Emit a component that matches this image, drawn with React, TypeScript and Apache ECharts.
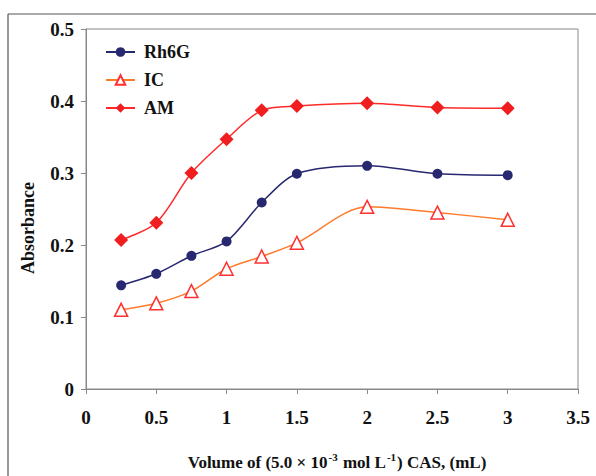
import React, { useEffect, useRef } from "react";
import * as echarts from "echarts";

const volumes = [0.25, 0.5, 0.75, 1, 1.25, 1.5, 2, 2.5, 3];
const rh6g = [0.144, 0.16, 0.185, 0.205, 0.259, 0.299, 0.31, 0.299, 0.297];
const ic = [0.11, 0.119, 0.136, 0.167, 0.184, 0.203, 0.253, 0.245, 0.235];
const am = [0.207, 0.231, 0.3, 0.347, 0.387, 0.393, 0.397, 0.391, 0.39];

const FONT = "'Liberation Serif', 'Times New Roman', serif";

export default function App() {
  const ref = useRef<HTMLDivElement>(null);
  useEffect(() => {
    if (!ref.current) return;
    const chart = echarts.init(ref.current, undefined, { renderer: "svg" });
    const pts = (ys: number[]) => volumes.map((x, i) => [x, ys[i]]);
    chart.setOption({
      animation: false,
      backgroundColor: "#fff",
      graphic: [
        { type: "line", shape: { x1: 8, y1: 14, x2: 596, y2: 14 }, style: { stroke: "#555", lineWidth: 1.2 } },
        { type: "line", shape: { x1: 8, y1: 14, x2: 8, y2: 476 }, style: { stroke: "#555", lineWidth: 1.2 } },
      ],
      grid: {
        left: 86,
        top: 29,
        right: 18,
        bottom: 87,
        show: true,
        borderColor: "#888",
        borderWidth: 1,
      },
      legend: {
        orient: "vertical",
        left: 105,
        top: 43,
        padding: 0,
        itemWidth: 29,
        itemHeight: 12,
        itemGap: 10,
        textStyle: { fontFamily: FONT, fontWeight: "bold", fontSize: 18, color: "#111", padding: [0, 0, 0, 4] },
        data: ["Rh6G", "IC", "AM"],
      },
      xAxis: {
        type: "value",
        min: 0,
        max: 3.5,
        interval: 0.5,
        splitLine: { show: false },
        axisLine: { lineStyle: { color: "#888" } },
        axisTick: { show: true, inside: false, length: 5, lineStyle: { color: "#888" } },
        axisLabel: { fontFamily: FONT, fontWeight: "bold", fontSize: 19, color: "#111", margin: 19 },
        name: "{n|Volume of (5.0 × 10}{s|-3}{n| mol L}{s|-1}{n|) CAS, (mL)}",
        nameLocation: "middle",
        nameGap: 62,
        nameTextStyle: {
          padding: [0, 0, 0, 10],
          rich: {
            n: { fontFamily: FONT, fontWeight: "bold", fontSize: 17, color: "#111", lineHeight: 22 },
            s: { fontFamily: FONT, fontWeight: "bold", fontSize: 11, color: "#111", verticalAlign: "top", lineHeight: 22, padding: [0, 1, 9, 1] },
          },
        },
      },
      yAxis: {
        type: "value",
        min: 0,
        max: 0.5,
        interval: 0.1,
        splitLine: { show: false },
        axisLine: { show: true, lineStyle: { color: "#888" } },
        axisTick: { show: true, inside: false, length: 5, lineStyle: { color: "#888" } },
        axisLabel: { fontFamily: FONT, fontWeight: "bold", fontSize: 19, color: "#111", margin: 12 },
        name: "Absorbance",
        nameLocation: "middle",
        nameGap: 49,
        nameTextStyle: { fontFamily: FONT, fontWeight: "bold", fontSize: 18, color: "#111", padding: [0, 38, 0, 0] },
      },
      series: [
        {
          name: "Rh6G",
          type: "line",
          data: pts(rh6g),
          smooth: 0.3,
          symbol: "circle",
          symbolSize: 10,
          lineStyle: { color: "#27286f", width: 1.5 },
          itemStyle: { color: "#27286f" },
        },
        {
          name: "IC",
          type: "line",
          data: pts(ic),
          smooth: 0.3,
          symbol: "triangle",
          symbolSize: 13,
          lineStyle: { color: "#ff7a2a", width: 1.5 },
          itemStyle: { color: "#fff", borderColor: "#ff3030", borderWidth: 1.5 },
        },
        {
          name: "AM",
          type: "line",
          data: pts(am),
          smooth: 0.3,
          symbol: "diamond",
          symbolSize: 14,
          lineStyle: { color: "#ff2a2a", width: 1.5 },
          itemStyle: { color: "#f01e1e" },
        },
      ],
    });
    return () => chart.dispose();
  }, []);
  return (
    <div
      ref={ref}
      style={{ position: "fixed", left: 0, top: 0, width: 596, height: 476 }}
    />
  );
}
